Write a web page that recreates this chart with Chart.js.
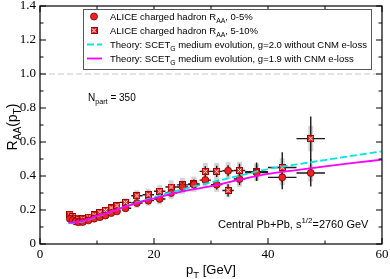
<!DOCTYPE html>
<html><head><meta charset="utf-8">
<script src="https://cdn.jsdelivr.net/npm/chart.js@4/dist/chart.umd.min.js"></script>
<style>html,body{margin:0;padding:0;background:#fff}canvas{display:block}</style>
</head><body>
<canvas id="c" width="390" height="279"></canvas>
<script>
// ---- data ----
const ptBins      = [5.25,5.75,6.25,6.75,7.5,8.5,9.5,10.5,11.5,12.5,13.5,15,17,19,21,23,25,27,29,31,33,35,38,42.5,47.5];
const ptHalfWidth = [0.25,0.25,0.25,0.25,0.5,0.5,0.5,0.5,0.5,0.5,0.5,1,1,1,1,1,1,1,1,1,1,1,2,2.5,2.5];
const raa0to5  = [0.148,0.140,0.133,0.128,0.129,0.139,0.149,0.158,0.168,0.182,0.192,0.210,0.241,0.255,0.265,0.300,0.335,0.350,0.376,0.349,0.431,0.382,0.420,0.392,0.418];
const stat0to5 = [0.002,0.002,0.002,0.002,0.002,0.002,0.002,0.002,0.003,0.003,0.004,0.005,0.008,0.010,0.012,0.015,0.018,0.022,0.026,0.028,0.032,0.035,0.045,0.070,0.080];
const sys0to5  = [0.016,0.015,0.014,0.014,0.014,0.015,0.016,0.017,0.018,0.019,0.020,0.022,0.028,0.030,0.032,0.036,0.040,0.042,0.045,0.042,0.050,0.046,0.050,0.047,0.050];
const raa5to10  = [0.175,0.162,0.152,0.146,0.148,0.158,0.172,0.186,0.198,0.212,0.225,0.245,0.284,0.290,0.310,0.335,0.348,0.353,0.427,0.427,0.315,0.432,0.425,0.450,0.620];
const stat5to10 = [0.002,0.002,0.002,0.002,0.002,0.002,0.003,0.003,0.003,0.004,0.005,0.006,0.010,0.012,0.014,0.018,0.022,0.026,0.030,0.033,0.036,0.040,0.055,0.090,0.130];
const sys5to10  = [0.018,0.017,0.016,0.016,0.016,0.017,0.018,0.019,0.020,0.021,0.022,0.025,0.032,0.034,0.036,0.040,0.042,0.044,0.050,0.050,0.040,0.052,0.050,0.054,0.075];
const theoryPt    = [5,6,7,8,10,12,15,20,25,30,35,40,45,50,55,60];
const theoryCNM   = [0.125,0.128,0.133,0.140,0.165,0.185,0.220,0.268,0.310,0.340,0.378,0.412,0.435,0.457,0.477,0.496];
const theoryNoCNM = [0.122,0.125,0.130,0.137,0.162,0.183,0.222,0.275,0.322,0.362,0.402,0.441,0.468,0.494,0.520,0.545];
const xMajorTicks = [0,20,40,60];
const xMinorTicks = [10,30,50];
const yMajorTicks = [0,0.2,0.4,0.6,0.8,1,1.2,1.4];
const yMinorTicks = [0.1,0.3,0.5,0.7,0.9,1.1,1.3];
const legendLabels = [
  [["ALICE charged hadron R",0],["AA",1],[", 0-5%",0]],
  [["ALICE charged hadron R",0],["AA",1],[", 5-10%",0]],
  [["Theory: SCET",0],["G",1],[" medium evolution, g=2.0 without CNM e-loss",0]],
  [["Theory: SCET",0],["G",1],[" medium evolution, g=1.9 with CNM e-loss",0]]
];
const npartLabel = [["N",0],["part",1],[" = 350",0]];
const systemLabel = [["Central Pb+Pb, s",0],["1/2",2],["=2760 GeV",0]];
const xTitle = [["p",0],["T",1],[" [GeV]",0]];
const yTitle = [["R",0],["AA",1],["(p",0],["T",1],[")",0]];

// ---- styles ----
const RED = '#ee2222';
const SANS = '"Liberation Sans", Arial, sans-serif';
const SERIF = '"Liberation Serif", "Times New Roman", serif';

function makeSquare(){
  const c=document.createElement('canvas'); c.width=7; c.height=7;
  const g=c.getContext('2d');
  g.fillStyle=RED; g.fillRect(0,0,7,7);
  g.strokeStyle='#fff'; g.lineWidth=1;
  g.beginPath(); g.moveTo(1.5,1.5); g.lineTo(5.5,5.5); g.moveTo(5.5,1.5); g.lineTo(1.5,5.5); g.stroke();
  g.strokeStyle='#a00000'; g.strokeRect(0.5,0.5,6,6);
  return c;
}
const squareImg = makeSquare();

function rich(ctx, parts, x, y, size, family, align){
  const fonts = parts.map(p => (p[1] ? size*0.72 : size) + 'px ' + family);
  const widths = parts.map((p,i)=>{ ctx.font = fonts[i]; return ctx.measureText(p[0]).width; });
  const total = widths.reduce((a,b)=>a+b,0);
  let cx = align==='center' ? x-total/2 : (align==='right' ? x-total : x);
  ctx.textAlign='left'; ctx.textBaseline='alphabetic';
  parts.forEach((p,i)=>{
    ctx.font = fonts[i];
    const dy = p[1]===1 ? size*0.3 : (p[1]===2 ? -size*0.45 : 0);
    ctx.fillText(p[0], cx, y+dy);
    cx += widths[i];
  });
}

const pts = (xs, ys) => xs.map((x,i)=>({x, y: ys[i]}));

const decor = {
  id:'decor',
  beforeDatasetsDraw(chart){
    const {ctx, chartArea:a, scales:{x, y}} = chart;
    ctx.save();
    // dashed line at 1
    ctx.strokeStyle='#c8c8c8'; ctx.lineWidth=1; ctx.setLineDash([6,3]);
    ctx.beginPath(); ctx.moveTo(a.left, y.getPixelForValue(1)); ctx.lineTo(a.right, y.getPixelForValue(1)); ctx.stroke();
    ctx.setLineDash([]);
    // systematic boxes
    ctx.fillStyle='#d4d4d4';
    [[raa0to5,sys0to5],[raa5to10,sys5to10]].forEach(([v,s])=>{
      ptBins.forEach((pt,i)=>{
        const px = x.getPixelForValue(pt);
        const y1 = y.getPixelForValue(v[i]+s[i]), y2 = y.getPixelForValue(v[i]-s[i]);
        ctx.fillRect(px-2.5, y1, 5, y2-y1);
      });
    });
    // stat error bars and bin widths
    ctx.strokeStyle='#1a1a1a'; ctx.lineWidth=1.4;
    [[raa0to5,stat0to5],[raa5to10,stat5to10]].forEach(([v,s])=>{
      ptBins.forEach((pt,i)=>{
        const px = x.getPixelForValue(pt), py = y.getPixelForValue(v[i]);
        ctx.beginPath();
        ctx.moveTo(x.getPixelForValue(pt-ptHalfWidth[i]), py); ctx.lineTo(x.getPixelForValue(pt+ptHalfWidth[i]), py);
        ctx.moveTo(px, y.getPixelForValue(v[i]+s[i])); ctx.lineTo(px, y.getPixelForValue(v[i]-s[i]));
        ctx.stroke();
      });
    });
    ctx.restore();
  },
  afterDraw(chart){
    const {ctx, chartArea:a, scales:{x, y}} = chart;
    ctx.save();
    // frame
    ctx.strokeStyle='#000'; ctx.lineWidth=1.2;
    ctx.strokeRect(a.left, a.top, a.right-a.left, a.bottom-a.top);
    // inward ticks
    ctx.lineWidth=1;
    ctx.beginPath();
    const tx = (v,len)=>{ const p=x.getPixelForValue(v); ctx.moveTo(p,a.bottom); ctx.lineTo(p,a.bottom-len); ctx.moveTo(p,a.top); ctx.lineTo(p,a.top+len); };
    const ty = (v,len)=>{ const p=y.getPixelForValue(v); ctx.moveTo(a.left,p); ctx.lineTo(a.left+len,p); ctx.moveTo(a.right,p); ctx.lineTo(a.right-len,p); };
    xMajorTicks.forEach(v=>tx(v,6)); xMinorTicks.forEach(v=>tx(v,3.5));
    yMajorTicks.forEach(v=>ty(v,6)); yMinorTicks.forEach(v=>ty(v,3.5));
    ctx.stroke();
    // legend
    const lx=83, ly=9, lw=288, lh=60;
    ctx.fillStyle='#fff'; ctx.fillRect(lx,ly,lw,lh);
    ctx.strokeStyle='#555'; ctx.lineWidth=1; ctx.strokeRect(lx+0.5,ly+0.5,lw,lh);
    const rows=[16.5,30.5,44.5,58.5];
    // circle
    ctx.beginPath(); ctx.arc(94,rows[0],3.5,0,Math.PI*2); ctx.fillStyle=RED; ctx.fill();
    ctx.strokeStyle='#7a0000'; ctx.lineWidth=0.8; ctx.stroke();
    ctx.drawImage(squareImg, 94-3.5, rows[1]-3.5);
    ctx.lineWidth=1.8;
    ctx.strokeStyle='#00e5e5'; ctx.setLineDash([7,3]);
    ctx.beginPath(); ctx.moveTo(87,rows[2]); ctx.lineTo(102,rows[2]); ctx.stroke();
    ctx.setLineDash([]);
    ctx.strokeStyle='#ff00ff';
    ctx.beginPath(); ctx.moveTo(87,rows[3]); ctx.lineTo(102,rows[3]); ctx.stroke();
    ctx.fillStyle='#000';
    legendLabels.forEach((parts,i)=>rich(ctx, parts, 110, rows[i]+3.3, 9.5, SANS, 'left'));
    // annotations
    rich(ctx, npartLabel, 88, 100.5, 10, SANS, 'left');
    rich(ctx, systemLabel, 218, 228, 11, SANS, 'left');
    // axis titles
    rich(ctx, xTitle, 211, 274, 13, SANS, 'center');
    ctx.save(); ctx.translate(17, 127); ctx.rotate(-Math.PI/2);
    rich(ctx, yTitle, 0, 0, 14, SANS, 'center');
    ctx.restore();
    ctx.restore();
  }
};

new Chart(document.getElementById('c'), {
  type:'scatter',
  data:{datasets:[
    {label:'Theory: SCET_G medium evolution, g=1.9 with CNM e-loss', data:pts(theoryPt,theoryCNM), showLine:true,
     borderColor:'#ff00ff', borderWidth:1.8, pointRadius:0, cubicInterpolationMode:'monotone', order:0},
    {label:'Theory: SCET_G medium evolution, g=2.0 without CNM e-loss', data:pts(theoryPt,theoryNoCNM), showLine:true,
     borderColor:'#00e5e5', borderWidth:1.8, borderDash:[7,3], pointRadius:0, cubicInterpolationMode:'monotone', order:1},
    {label:'ALICE charged hadron R_AA, 0-5%', data:pts(ptBins,raa0to5), pointStyle:'circle', pointRadius:3.5,
     backgroundColor:RED, borderColor:'#7a0000', borderWidth:0.8, order:2},
    {label:'ALICE charged hadron R_AA, 5-10%', data:pts(ptBins,raa5to10), pointStyle:squareImg, pointRadius:3.5, order:3}
  ]},
  options:{
    responsive:false, animation:false, devicePixelRatio:1,
    layout:{padding:{top:6,right:8,left:0,bottom:0}},
    plugins:{legend:{display:false}, tooltip:{enabled:false}},
    events:[],
    scales:{
      x:{type:'linear', min:0, max:60,
         ticks:{stepSize:20, autoSkip:false, maxRotation:0, padding:3, color:'#000', font:{family:SERIF, size:13}},
         grid:{display:false, drawTicks:false}, border:{display:false},
         afterFit(s){ s.height=35; s.paddingLeft=0; s.paddingRight=0; }},
      y:{type:'linear', min:0, max:1.4,
         ticks:{stepSize:0.2, autoSkip:false, padding:4, color:'#000', font:{family:SERIF, size:13}},
         grid:{display:false, drawTicks:false}, border:{display:false},
         afterFit(s){ s.width=40; s.paddingTop=0; s.paddingBottom=0; }}
    }
  },
  plugins:[decor]
});
</script>
</body></html>
